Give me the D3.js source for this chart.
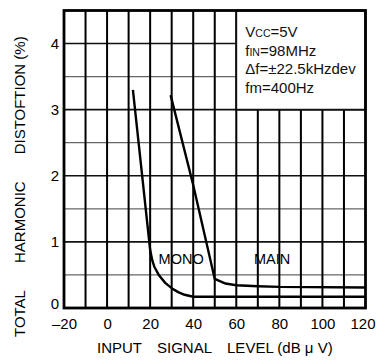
<!DOCTYPE html>
<html>
<head>
<meta charset="utf-8">
<script src="https://cdn.jsdelivr.net/npm/d3@7/dist/d3.min.js"></script>
<style>
  html, body { margin: 0; padding: 0; background: #fff; }
  svg { display: block; font-family: "Liberation Sans", Arial, Helvetica, sans-serif; }
</style>
</head>
<body>
<svg id="chart" width="376" height="363"></svg>
<script>
// ---- data ----
const monoX = [12, 20, 21, 22, 24, 27, 30, 33, 36, 40, 120];
const monoY = [3.3, 0.88, 0.72, 0.62, 0.5, 0.38, 0.3, 0.24, 0.2, 0.17, 0.17];
const mainX = [29.5, 40, 50, 55, 60, 70, 80, 120];
const mainY = [3.22, 1.86, 0.44, 0.37, 0.345, 0.33, 0.32, 0.31];
const xTicks = [-20, 0, 20, 40, 60, 80, 100, 120];
const yTicks = [0, 1, 2, 3, 4];
const xGrid = [-10, 0, 10, 20, 30, 40, 50, 60, 70, 80, 90, 100, 110];
const yGrid = [0.5, 1, 1.5, 2, 2.5, 3, 3.5, 4];
const curveLabels = ["MONO", "MAIN"];
const curveLabelX = [34.4, 76.6];
const curveLabelY = [0.66, 0.66];
const condLines = [
  [["V", false], ["CC", true], ["=5V", false]],
  [["f", false], ["IN", true], ["=98MHz", false]],
  [["Δf=±22.5kHzdev", false]],
  [["fm=400Hz", false]]
];
const xTitle = ["INPUT", "SIGNAL", "LEVEL (dB μ V)"];
const yTitle = ["TOTAL", "HARMONIC", "DISTOFTION (%)"];

// ---- layout ----
const svg = d3.select("#chart");
const x = d3.scaleLinear().domain([-20, 120]).range([64, 365.5]);
const y = d3.scaleLinear().domain([0, 4.5]).range([308, 10.5]);

// grid
svg.append("g").selectAll("line").data(yGrid).join("line")
  .attr("x1", x(-20)).attr("x2", x(120))
  .attr("y1", d => y(d)).attr("y2", d => y(d))
  .attr("stroke", d => Number.isInteger(d) ? "#111" : "#666")
  .attr("stroke-width", d => Number.isInteger(d) ? 1.6 : 1.3);
svg.append("g").selectAll("line").data(xGrid).join("line")
  .attr("x1", d => x(d)).attr("x2", d => x(d))
  .attr("y1", y(0)).attr("y2", y(4.5))
  .attr("stroke", "#000").attr("stroke-width", 2);

// conditions box
svg.append("rect")
  .attr("x", x(60)).attr("y", y(4.5))
  .attr("width", x(120) - x(60)).attr("height", y(3) - y(4.5))
  .attr("fill", "#fff").attr("stroke", "#111").attr("stroke-width", 1.8);
const cond = svg.append("g").attr("font-size", 15).attr("fill", "#111");
condLines.forEach((parts, i) => {
  const t = cond.append("text").attr("x", x(60) + 9).attr("y", 37 + i * 18.6);
  parts.forEach(([s, small]) => {
    t.append("tspan").text(s).attr("font-size", small ? 10.5 : 15);
  });
});

// curves
const line = d3.line().x(d => x(d[0])).y(d => y(d[1]));
const series = [d3.zip(monoX, monoY), d3.zip(mainX, mainY)];
svg.append("g").selectAll("path").data(series).join("path")
  .attr("d", line).attr("fill", "none")
  .attr("stroke", "#000").attr("stroke-width", 2.4)
  .attr("stroke-linejoin", "round");

// curve labels
svg.append("g").selectAll("text").data(curveLabels).join("text")
  .attr("x", (d, i) => x(curveLabelX[i])).attr("y", (d, i) => y(curveLabelY[i]))
  .attr("text-anchor", "middle").attr("font-size", 14.5).attr("fill", "#000")
  .text(d => d);

// frame
svg.append("rect")
  .attr("x", x(-20)).attr("y", y(4.5))
  .attr("width", x(120) - x(-20)).attr("height", y(0) - y(4.5))
  .attr("fill", "none").attr("stroke", "#000").attr("stroke-width", 2.8);

// axes (labels only)
const xAxis = d3.axisBottom(x).tickValues(xTicks).tickSize(0).tickPadding(10)
  .tickFormat(d3.format("d"));
const gx = svg.append("g").attr("transform", `translate(0,${y(0)})`).call(xAxis);
gx.select(".domain").remove();
gx.selectAll("text").attr("font-size", 15).attr("fill", "#000")
  .attr("font-family", "Liberation Sans, Arial, sans-serif")
  .attr("dx", d => d === 120 ? -3 : 0)
  .text(d => d < 0 ? "–" + Math.abs(d) : d);

const yAxis = d3.axisLeft(y).tickValues(yTicks).tickSize(0).tickPadding(5)
  .tickFormat(d3.format("d"));
const gy = svg.append("g").attr("transform", `translate(${x(-20)},0)`).call(yAxis);
gy.select(".domain").remove();
gy.selectAll("text").attr("font-size", 15).attr("fill", "#000")
  .attr("font-family", "Liberation Sans, Arial, sans-serif")
  .attr("dy", d => d === 0 ? "0.05em" : "0.32em");

// titles
const xt = svg.append("text").attr("x", 97).attr("y", 353)
  .attr("font-size", 15).attr("fill", "#000");
xTitle.forEach((s, i) => xt.append("tspan").attr("dx", i ? 15 : 0).text(s));

const yt = svg.append("text").attr("transform", "translate(25,337) rotate(-90)")
  .attr("font-size", 15).attr("fill", "#000");
yTitle.forEach((s, i) => yt.append("tspan").attr("dx", i ? 27 : 0).text(s));
</script>
</body>
</html>
